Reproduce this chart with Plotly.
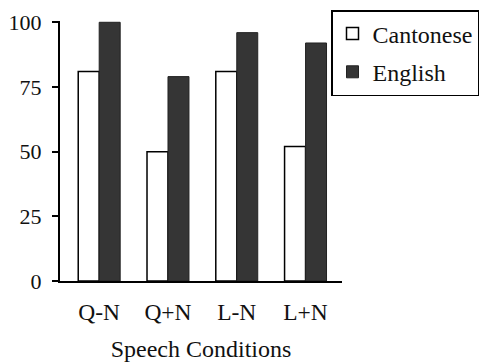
import plotly.graph_objects as go

categories = ["Q-N", "Q+N", "L-N", "L+N"]
cantonese = [81, 50, 81, 52]
english = [100, 79, 96, 92]
y_ticks = [0, 25, 50, 75, 100]

FONT = "Liberation Serif, Times New Roman, serif"

fig = go.Figure()
fig.add_trace(go.Bar(x=categories, y=cantonese, name="Cantonese", legendgroup="a",
                     marker=dict(color="white", line=dict(color="black", width=1.5))))
fig.add_trace(go.Bar(x=categories, y=english, name="English", legendgroup="b",
                     marker=dict(color="#353535", line=dict(color="#222222", width=1))))

fig.update_layout(
    width=479, height=362,
    margin=dict(l=60, r=137, t=21, b=81, autoexpand=False),
    paper_bgcolor="white", plot_bgcolor="white",
    bargap=0.39, bargroupgap=0,
    font=dict(family=FONT, size=24, color="#111111"),
    showlegend=True,
    legend=dict(xref="container", yref="container",
                x=331 / 479, y=1 - 10 / 362, xanchor="left", yanchor="top",
                bordercolor="black", borderwidth=1.5, bgcolor="white",
                font=dict(family=FONT, size=24, color="#111111"),
                traceorder="grouped", tracegroupgap=4,
                itemwidth=30, entrywidth=145, entrywidthmode="pixels"),
    xaxis=dict(range=[-0.57, 3.53], showline=True, linecolor="black", linewidth=2,
               ticks="", showgrid=False, zeroline=False, automargin=False,
               ticklabelstandoff=9,
               tickfont=dict(family=FONT, size=23.5),
               title=dict(text="Speech Conditions", standoff=18,
                          font=dict(family=FONT, size=24, color="#111111"))),
    yaxis=dict(range=[0, 100.5], tickvals=y_ticks, showline=True, linecolor="black",
               linewidth=2, ticks="outside", ticklen=6, tickwidth=2, tickcolor="black",
               showgrid=False, zeroline=False, ticklabelstandoff=6, automargin=False,
               tickfont=dict(family=FONT, size=22)),
)

fig.write_html("out.html", config={"displayModeBar": False},
               post_script="document.body.style.margin='0';document.body.style.overflow='hidden';")
